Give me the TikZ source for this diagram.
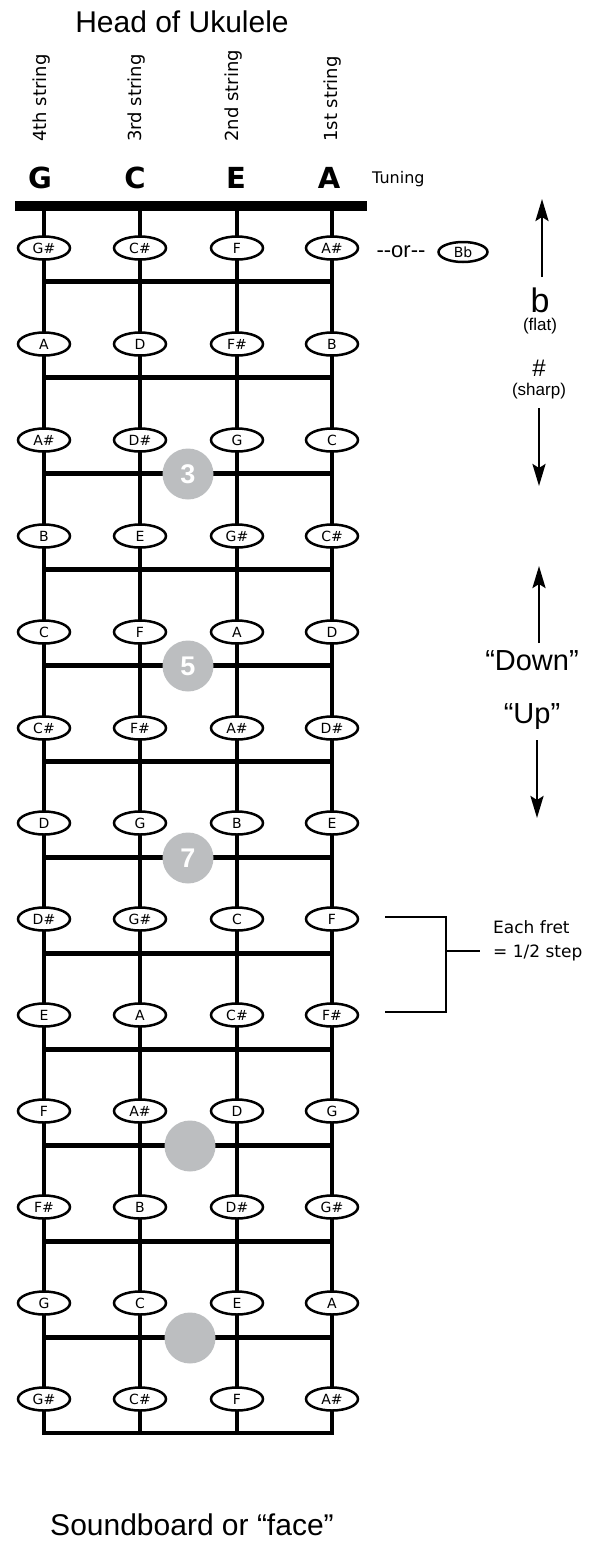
\documentclass[tikz,border=0pt]{standalone}
\usepackage{fontspec}
\setmainfont{Liberation Sans}
\newfontfamily\comic{DejaVu Sans}
\usetikzlibrary{shapes.geometric,arrows.meta}
\definecolor{dotgray}{RGB}{188,190,192}
\tikzset{
  note/.style={ellipse,draw=black,line width=2.5pt,fill=white,inner sep=0pt,
    minimum width=52pt,minimum height=23pt,font=\comic\fontsize{14}{14}\selectfont},
  strlabel/.style={rotate=90,anchor=base west,inner sep=0pt,font=\comic\fontsize{18}{18}\selectfont},
  tuning/.style={anchor=base,inner sep=0pt,font=\comic\bfseries\fontsize{29}{29}\selectfont},
  marker/.style={circle,fill=dotgray,minimum size=51pt,inner sep=0pt,text=white,
    font=\bfseries\fontsize{27}{27}\selectfont},
  fret/.style={line width=5pt},
  arr/.style={line width=2.8pt,-{Stealth[length=22pt,width=13pt,inset=4pt]}},
  bracket/.style={line width=2.8pt}
}
\begin{document}
\begin{tikzpicture}[x=1pt,y=1pt]
\useasboundingbox (0,0) rectangle (602,-1543);
% titles
\node [font=\fontsize{30}{30}\selectfont,anchor=base] (head) at (182,-32) {Head of Ukulele};
\node [font=\fontsize{30}{30}\selectfont,anchor=base] (face) at (192,-1535) {Soundboard or “face”};
% strings and tuning
\node [strlabel] (lbl4) at (46,-142) {4th string};
\node [strlabel] (lbl3) at (141,-142) {3rd string};
\node [strlabel] (lbl2) at (238,-142) {2nd string};
\node [strlabel] (lbl1) at (337,-142) {1st string};
\node [tuning] (tG) at (40,-188) {G};
\node [tuning] (tC) at (135,-188) {C};
\node [tuning] (tE) at (236,-188) {E};
\node [tuning] (tA) at (329,-188) {A};
\node [anchor=base west,inner sep=0pt,font=\comic\fontsize{16}{16}\selectfont] (tuning) at (372,-183) {Tuning};
% neck
\draw [line width=10pt] (15,-206) -- (367,-206);
\draw [line width=4.5pt] (44,-206) -- (44,-1433) -- (332,-1433) -- (332,-206);
\draw [line width=4.5pt] (140,-206) -- (140,-1433);
\draw [line width=4.5pt] (237,-206) -- (237,-1433);
\draw [fret] (44,-281) -- (332,-281);
\draw [fret] (44,-377) -- (332,-377);
\draw [fret] (44,-473) -- (332,-473);
\draw [fret] (44,-569) -- (332,-569);
\draw [fret] (44,-665) -- (332,-665);
\draw [fret] (44,-761) -- (332,-761);
\draw [fret] (44,-857) -- (332,-857);
\draw [fret] (44,-953) -- (332,-953);
\draw [fret] (44,-1049) -- (332,-1049);
\draw [fret] (44,-1145) -- (332,-1145);
\draw [fret] (44,-1241) -- (332,-1241);
\draw [fret] (44,-1337) -- (332,-1337);
% position dots
\node [marker] (dot3) at (188,-474) {3};
\node [marker] (dot5) at (188,-666) {5};
\node [marker] (dot7) at (188,-858) {7};
\node [marker] (dot10) at (190,-1146) {};
\node [marker] (dot12) at (190,-1338) {};
% notes, row by row (4th .. 1st string)
\node [note] (r1s4) at (44,-248) {G\#};
\node [note] (r1s3) at (140,-248) {C\#};
\node [note] (r1s2) at (237,-248) {F};
\node [note] (r1s1) at (332,-248) {A\#};
\node [note] (r2s4) at (44,-344) {A};
\node [note] (r2s3) at (140,-344) {D};
\node [note] (r2s2) at (237,-344) {F\#};
\node [note] (r2s1) at (332,-344) {B};
\node [note] (r3s4) at (44,-440) {A\#};
\node [note] (r3s3) at (140,-440) {D\#};
\node [note] (r3s2) at (237,-440) {G};
\node [note] (r3s1) at (332,-440) {C};
\node [note] (r4s4) at (44,-536) {B};
\node [note] (r4s3) at (140,-536) {E};
\node [note] (r4s2) at (237,-536) {G\#};
\node [note] (r4s1) at (332,-536) {C\#};
\node [note] (r5s4) at (44,-632) {C};
\node [note] (r5s3) at (140,-632) {F};
\node [note] (r5s2) at (237,-632) {A};
\node [note] (r5s1) at (332,-632) {D};
\node [note] (r6s4) at (44,-728) {C\#};
\node [note] (r6s3) at (140,-728) {F\#};
\node [note] (r6s2) at (237,-728) {A\#};
\node [note] (r6s1) at (332,-728) {D\#};
\node [note] (r7s4) at (44,-823) {D};
\node [note] (r7s3) at (140,-823) {G};
\node [note] (r7s2) at (237,-823) {B};
\node [note] (r7s1) at (332,-823) {E};
\node [note] (r8s4) at (44,-919) {D\#};
\node [note] (r8s3) at (140,-919) {G\#};
\node [note] (r8s2) at (237,-919) {C};
\node [note] (r8s1) at (332,-919) {F};
\node [note] (r9s4) at (44,-1015) {E};
\node [note] (r9s3) at (140,-1015) {A};
\node [note] (r9s2) at (237,-1015) {C\#};
\node [note] (r9s1) at (332,-1015) {F\#};
\node [note] (r10s4) at (44,-1111) {F};
\node [note] (r10s3) at (140,-1111) {A\#};
\node [note] (r10s2) at (237,-1111) {D};
\node [note] (r10s1) at (332,-1111) {G};
\node [note] (r11s4) at (44,-1207) {F\#};
\node [note] (r11s3) at (140,-1207) {B};
\node [note] (r11s2) at (237,-1207) {D\#};
\node [note] (r11s1) at (332,-1207) {G\#};
\node [note] (r12s4) at (44,-1303) {G};
\node [note] (r12s3) at (140,-1303) {C};
\node [note] (r12s2) at (237,-1303) {E};
\node [note] (r12s1) at (332,-1303) {A};
\node [note] (r13s4) at (44,-1399) {G\#};
\node [note] (r13s3) at (140,-1399) {C\#};
\node [note] (r13s2) at (237,-1399) {F};
\node [note] (r13s1) at (332,-1399) {A\#};
% enharmonic
\node [font=\fontsize{22}{22}\selectfont] (or) at (401,-252) {-{}-or-{}-};
\node [note,minimum width=49pt,minimum height=20pt] (bb) at (463,-252) {Bb};
% flat / sharp
\node [anchor=base,inner sep=0pt,font=\fontsize{34}{34}\selectfont] (flat) at (540,-312) {b};
\node [anchor=base,inner sep=0pt,font=\fontsize{17}{17}\selectfont] (flatt) at (540,-330) {(flat)};
\node [anchor=base,inner sep=0pt,font=\fontsize{24}{24}\selectfont] (sharp) at (539,-376) {\#};
\node [anchor=base,inner sep=0pt,font=\fontsize{17}{17}\selectfont] (sharpt) at (539,-395) {(sharp)};
\coordinate (fs) at (542,-277);
\coordinate (fe) at (542,-199);
\coordinate (ss) at (539,-408);
\coordinate (se) at (539,-486);
\draw [arr] (fs) -- (fe);
\draw [arr] (ss) -- (se);
% down / up
\node [anchor=base,inner sep=0pt,font=\fontsize{29}{29}\selectfont] (down) at (532,-670) {“Down”};
\node [anchor=base,inner sep=0pt,font=\fontsize{29}{29}\selectfont] (up) at (532,-723) {“Up”};
\coordinate (ds) at (539,-643);
\coordinate (de) at (539,-566);
\coordinate (us) at (537,-740);
\coordinate (ue) at (537,-818);
\draw [arr] (ds) -- (de);
\draw [arr] (us) -- (ue);
% half step bracket
\coordinate (bt) at (385,-917);
\coordinate (bb2) at (385,-1012);
\coordinate (bm) at (446,-951);
\coordinate (bx) at (480,-951);
\draw [bracket] (bt) -| (446,-1012) -- (bb2);
\draw [bracket] (bm) -- (bx);
\node [anchor=base west,inner sep=0pt,align=left,font=\comic\fontsize{17}{24}\selectfont] (step) at (493,-957) {Each fret\\= 1/2 step};
\end{tikzpicture}
\end{document}
